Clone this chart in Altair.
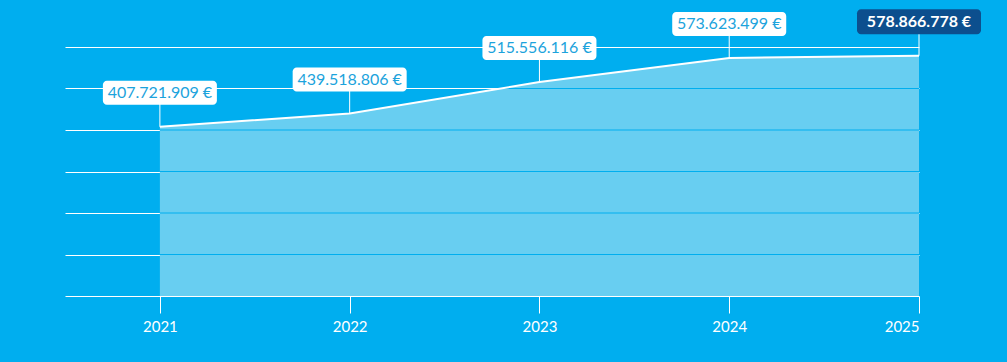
import altair as alt
import numpy as np
import pandas as pd

years = [2021, 2022, 2023, 2024, 2025]
values = [407721909, 439518806, 515556116, 573623499, 578866778]
labels = ["407.721.909 €", "439.518.806 €", "515.556.116 €", "573.623.499 €", "578.866.778 €"]
grid_levels = [100e6, 200e6, 300e6, 400e6, 500e6]

BG = "#00AEEF"
FILL = "#68CEF1"
TXT = "#1CA3DC"
DARK = "#0C4F8E"

df = pd.DataFrame({"year": years, "value": values, "label": labels})
df["last"] = df["year"] == max(years)

# inner grid segments (visible where the area lies beneath them)
starts = [max(years[0], float(np.interp(g, values, years))) for g in grid_levels]
gdf = pd.DataFrame({"g": grid_levels, "x0": starts, "x1": [years[-1]] * len(grid_levels)})

xs = alt.Scale(domain=[2020.5, 2025], nice=False, zero=False)
ys = alt.Scale(domain=[0, 600e6], nice=False)

xax = alt.Axis(values=years, format="d", grid=False, domain=False, tickColor="white",
               tickSize=17, tickWidth=1, labelColor="white", labelFontSize=15,
               labelFont="Lato", labelPadding=6, title=None)
yax = alt.Axis(values=[0, 100e6, 200e6, 300e6, 400e6, 500e6, 600e6], grid=True,
               gridColor="white", gridWidth=1, gridOpacity=1, labels=False, ticks=False,
               domain=False, title=None)

base = alt.Chart(df)

area = base.mark_area(color=FILL, opacity=1).encode(
    x=alt.X("year:Q", scale=xs, axis=xax),
    y=alt.Y("value:Q", scale=ys, axis=yax),
)

inner = alt.Chart(gdf).mark_rule(color=BG, strokeWidth=1).encode(
    x=alt.X("x0:Q", scale=xs), x2="x1:Q", y=alt.Y("g:Q", scale=ys)
)

line = base.mark_line(color="white", strokeWidth=2).encode(
    x=alt.X("year:Q", scale=xs), y=alt.Y("value:Q", scale=ys)
)

conn = base.mark_rule(color="white", strokeWidth=1, y2Offset=-24).encode(
    x=alt.X("year:Q", scale=xs), y=alt.Y("value:Q", scale=ys), y2="value:Q"
)

box = base.transform_filter("!datum.last").mark_rect(
    width=114, height=24, cornerRadius=4, color="white", yOffset=-34
).encode(x=alt.X("year:Q", scale=xs), y=alt.Y("value:Q", scale=ys))

box_last = base.transform_filter("datum.last").mark_rect(
    width=124, height=25, cornerRadius=4, color=DARK, yOffset=-34
).encode(x=alt.X("year:Q", scale=xs), y=alt.Y("value:Q", scale=ys))

txt = base.transform_filter("!datum.last").mark_text(
    font="Lato", fontSize=16, color=TXT, yOffset=-34, baseline="middle", align="center"
).encode(x=alt.X("year:Q", scale=xs), y=alt.Y("value:Q", scale=ys), text="label:N")

txt_last = base.transform_filter("datum.last").mark_text(
    font="Lato", fontSize=16, fontWeight="bold", color="white", yOffset=-34,
    baseline="middle", align="center"
).encode(x=alt.X("year:Q", scale=xs), y=alt.Y("value:Q", scale=ys), text="label:N")

chart = alt.layer(area, inner, line, conn, box, box_last, txt, txt_last).properties(
    width=854, height=249,
    autosize=alt.AutoSizeParams(type="none"),
    padding={"left": 65, "top": 47, "right": 88, "bottom": 66},
    background=BG,
).configure_view(stroke=None)

chart.save("out.html", embed_options={"renderer": "svg", "actions": False})
